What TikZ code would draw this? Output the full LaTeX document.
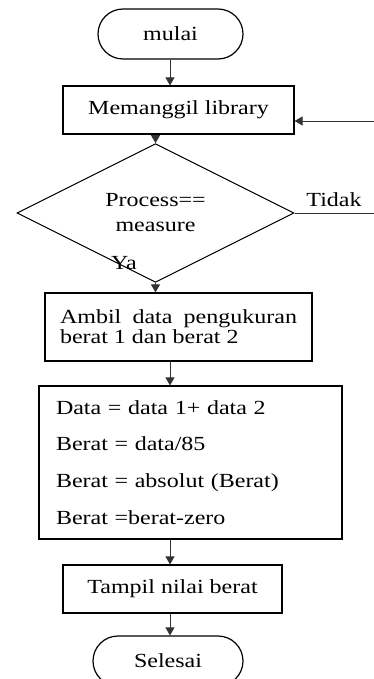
\documentclass[tikz,border=0pt]{standalone}
\usepackage{fontspec}
\setmainfont{Liberation Serif}[FakeStretch=1.2]
\usetikzlibrary{arrows.meta,shapes.geometric}

\tikzset{
  flowline/.style={draw=black!80, line width=0.9pt},
  flowarrow/.style={flowline, -{Triangle[width=9pt,length=8pt]}},
  terminal/.style={draw, line width=1.2pt, rounded corners=25pt, minimum width=#1, minimum height=50pt, inner sep=0pt},
  process/.style={draw, line width=1.2pt, inner sep=0pt},
  decision/.style={diamond, draw, line width=1pt, minimum width=277pt, minimum height=115pt, inner sep=0pt, align=center, font={\fontsize{20}{25}\selectfont}}
}

\begin{document}
\begin{tikzpicture}[x=1pt, y=-1pt, font={\fontsize{20}{20}\selectfont}]
  \useasboundingbox (0,0) rectangle (374,679);
    % main flow axis
    \coordinate (axis) at (170,0);
    % steps
    \node[terminal=145pt] (mulai) at (170.5,34) {mulai};
    \node[process, minimum width=231pt, minimum height=48pt] (lib) at (178.5,110) {Memanggil library};
    \node[decision] (dec) at (155.5,213) {Process==\\measure};
    \node (tidak) at (334,200) {Tidak};
    \node (ya) at (124,263) {Ya};
    \node[process, minimum width=267pt, minimum height=68pt, text width=237pt, align=justify] (ambil) at (178.5,327) {Ambil data pengukuran berat 1 dan berat 2};
    \node[process, minimum width=303pt, minimum height=153pt, text width=269pt, align=left, font={\fontsize{20}{36.7}\selectfont}] (calc) at (190.5,462.5) {Data = data 1+ data 2\\Berat = data/85\\Berat = absolut (Berat)\\Berat =berat-zero};
    \node[process, minimum width=219pt, minimum height=48pt] (tampil) at (172.5,589) {Tampil nilai berat};
    \node[terminal=150pt] (selesai) at (168,661) {Selesai};
    % connectors
    \draw[flowarrow] (axis |- mulai.south) -- (axis |- lib.north);
    \draw[flowarrow] (dec.north |- lib.south) -- (dec.north);
    \draw[flowarrow] (dec.south) -- (dec.south |- ambil.north);
    \draw[flowarrow] (axis |- ambil.south) -- (axis |- calc.north);
    \draw[flowarrow] (axis |- calc.south) -- (axis |- tampil.north);
    \draw[flowarrow] (axis |- tampil.south) -- (axis |- selesai.north);
    % loop back and no branch
    \coordinate (back) at (374,121);
    \draw[flowarrow] (back) -- (back -| lib.east);
    \coordinate (no) at (374,0);
    \draw[flowline] (dec.east) -- (no |- dec.east);
  \end{tikzpicture}
\end{document}
